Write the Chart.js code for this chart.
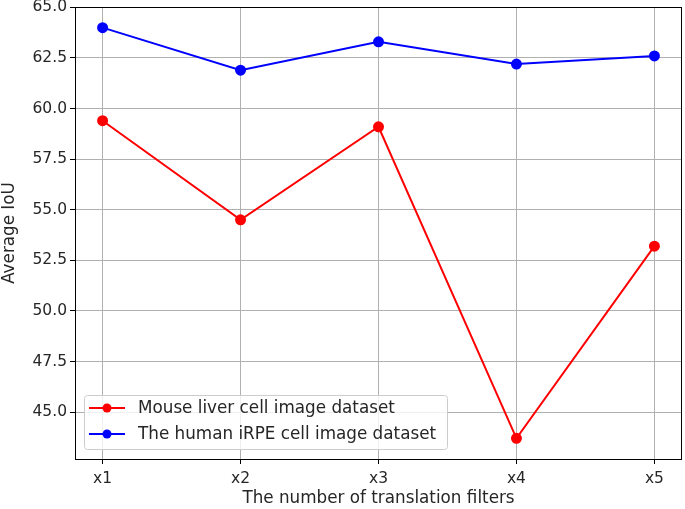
<!DOCTYPE html>
<html><head><meta charset="utf-8">
<script src="https://cdn.jsdelivr.net/npm/chart.js@4/dist/chart.umd.min.js"></script>
<style>html,body{margin:0;padding:0;background:#fff}#wrap{width:685px;height:509px}</style>
</head><body><div id="wrap"><canvas id="c" width="685" height="509"></canvas></div>
<script>
const categories = ["x1","x2","x3","x4","x5"];
const mouseLiver = [59.4, 54.5, 59.1, 43.7, 53.2];
const humanIRPE = [64.0, 61.9, 63.3, 62.2, 62.6];
const seriesNames = ["Mouse liver cell image dataset","The human iRPE cell image dataset"];
const xTitle = "The number of translation filters";
const yTitle = "Average IoU";

const FONT = "'DejaVu Sans', sans-serif";
const toPts = arr => arr.map((v,i)=>({x:i,y:v}));

const frame = {
  id:'frame',
  afterDraw(chart){
    const {ctx, chartArea:a} = chart;
    ctx.save();
    ctx.strokeStyle='#000'; ctx.lineWidth=1;
    ctx.strokeRect(Math.round(a.left)+0.5, Math.round(a.top)+0.5, Math.round(a.right-a.left)-1, Math.round(a.bottom-a.top));
    // legend
    const x0=84, y0=395, w=363, h=54;
    ctx.fillStyle='rgba(255,255,255,0.8)';
    ctx.strokeStyle='#cccccc';
    ctx.beginPath();
    ctx.roundRect(x0+0.5,y0+0.5,w,h,3);
    ctx.fill(); ctx.stroke();
    chart.data.datasets.forEach((ds,i)=>{
      const cy = 408 + i*26;
      ctx.strokeStyle=ds.borderColor; ctx.lineWidth=2;
      ctx.beginPath(); ctx.moveTo(89,cy); ctx.lineTo(125,cy); ctx.stroke();
      ctx.fillStyle=ds.borderColor;
      ctx.beginPath(); ctx.arc(107,cy,4.5,0,Math.PI*2); ctx.fill();
      ctx.fillStyle='#262626';
      ctx.font="16.8px "+FONT; ctx.textBaseline='middle'; ctx.textAlign='left';
      ctx.fillText(ds.label,138,cy+1);
    });
    ctx.restore();
  }
};

new Chart(document.getElementById('c'),{
  type:'line',
  data:{datasets:[
    {label:seriesNames[0],data:toPts(mouseLiver),borderColor:'#ff0000',backgroundColor:'#ff0000',borderWidth:2,pointRadius:4.5,pointHoverRadius:4.5,tension:0},
    {label:seriesNames[1],data:toPts(humanIRPE),borderColor:'#0000ff',backgroundColor:'#0000ff',borderWidth:2,pointRadius:4.5,pointHoverRadius:4.5,tension:0}
  ]},
  options:{
    responsive:false,animation:false,
    layout:{autoPadding:false,padding:{top:0,right:3,left:0,bottom:0}},
    plugins:{legend:{display:false},tooltip:{enabled:false}},
    scales:{
      x:{type:'linear',min:-0.2,max:4.2,
        afterFit(s){s.height=50;s.paddingRight=0;s.paddingLeft=0;},
        grid:{color:'#b0b0b0',tickColor:'#000',tickLength:5,drawTicks:true},
        border:{display:false},
        ticks:{stepSize:1,autoSkip:false,maxRotation:0,color:'#262626',font:{family:FONT,size:15.5},padding:6,
          callback:v=>Number.isInteger(v)&&categories[v]!==undefined?categories[v]:''},
        afterBuildTicks(s){s.ticks=categories.map((c,i)=>({value:i}));},
        title:{display:true,text:xTitle,color:'#262626',font:{family:FONT,size:16.8},padding:{top:5,bottom:0}}
      },
      y:{min:42.68,max:65.02,
        afterFit(s){s.width=75;s.paddingTop=7;s.paddingBottom=0;},
        afterBuildTicks(s){const t=[];for(let v=45;v<=65.001;v+=2.5)t.push({value:v});s.ticks=t;},
        grid:{color:'#b0b0b0',tickColor:'#000',tickLength:5,drawTicks:true},
        border:{display:false},
        ticks:{color:'#262626',font:{family:FONT,size:15.5},padding:3,callback:v=>v.toFixed(1)},
        title:{display:true,text:yTitle,color:'#262626',font:{family:FONT,size:16.8},padding:{top:0,bottom:2}}
      }
    }
  },
  plugins:[frame]
});
</script></body></html>
